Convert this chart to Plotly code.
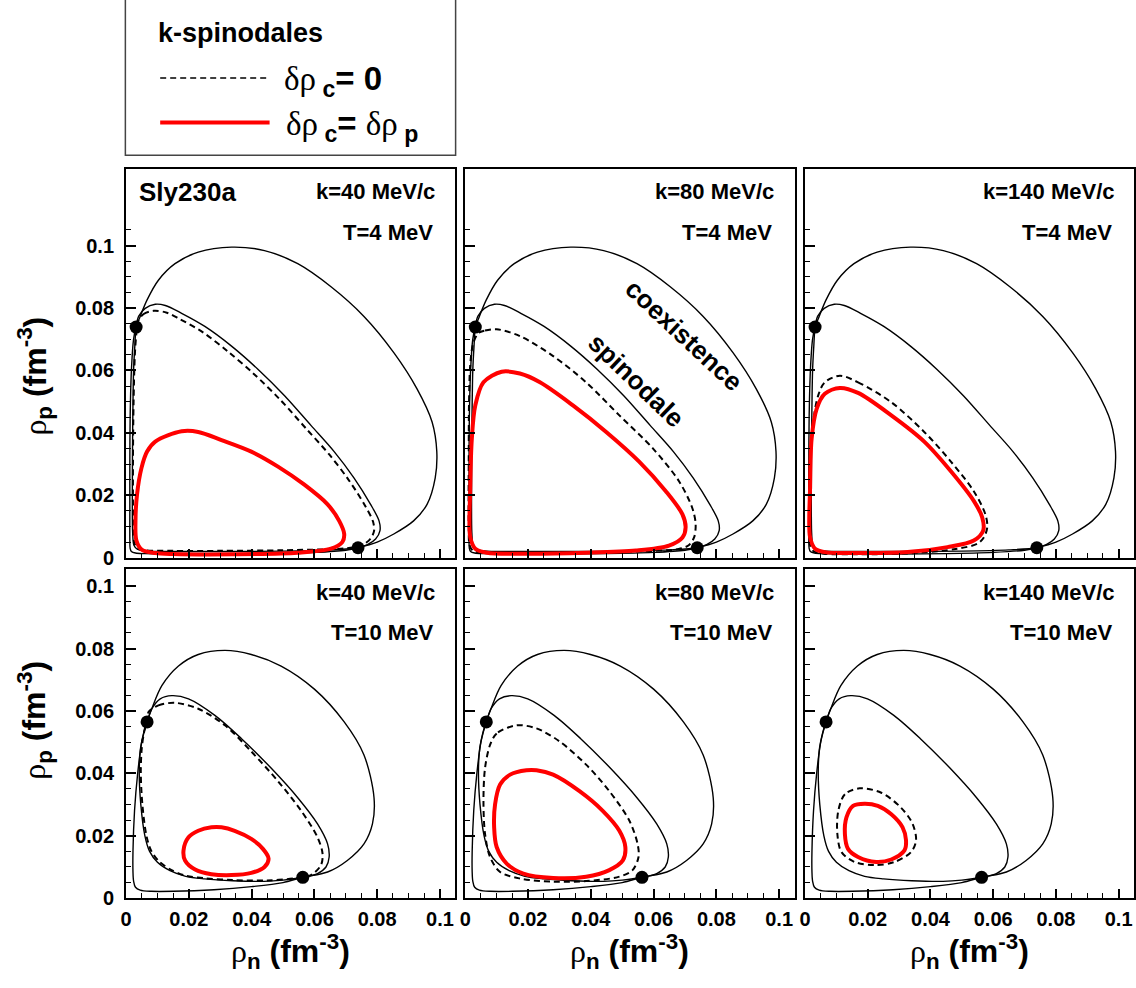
import plotly.graph_objects as go

# ---------------- data (rho_n, rho_p in fm^-3) ----------------
# Coexistence (binodal) curve, T = 4 MeV (same in all k panels)
coex_T4_rhon = [0.0032, 0.0045, 0.0067, 0.0103, 0.0156, 0.0230, 0.0336, 0.0441, 0.0547, 0.0653,
                0.0758, 0.0853, 0.0927, 0.0975, 0.0990, 0.0985, 0.0959, 0.0916, 0.0853, 0.0800,
                0.0739, 0.0700, 0.0600, 0.0450, 0.0300, 0.0150, 0.0060, 0.0030, 0.0017, 0.0013,
                0.0012, 0.0012, 0.0012, 0.0013, 0.0017, 0.0024, 0.0032]
coex_T4_rhop = [0.0739, 0.0773, 0.0826, 0.0889, 0.0942, 0.0979, 0.0995, 0.0984, 0.0942, 0.0868,
                0.0773, 0.0657, 0.0541, 0.0435, 0.0340, 0.0256, 0.0171, 0.0118, 0.0076, 0.0050,
                0.0032, 0.0024, 0.0017, 0.0013, 0.0012, 0.0012, 0.0013, 0.0015, 0.0020, 0.0030,
                0.0060, 0.0150, 0.0300, 0.0450, 0.0600, 0.0700, 0.0739]

# Spinodal, T = 4 MeV
spin_T4_rhon = [0.0032, 0.0040, 0.0061, 0.0093, 0.0125, 0.0177, 0.0251, 0.0336, 0.0420, 0.0505,
                0.0589, 0.0663, 0.0726, 0.0779, 0.0806, 0.0809, 0.0795, 0.0769, 0.0739, 0.0650,
                0.0500, 0.0300, 0.0150, 0.0060, 0.0035, 0.0025, 0.0021, 0.0020, 0.0021, 0.0024,
                0.0028, 0.0032]
spin_T4_rhop = [0.0739, 0.0773, 0.0799, 0.0812, 0.0808, 0.0783, 0.0741, 0.0678, 0.0604, 0.0519,
                0.0424, 0.0340, 0.0256, 0.0171, 0.0118, 0.0087, 0.0060, 0.0042, 0.0032, 0.0025,
                0.0021, 0.0020, 0.0020, 0.0022, 0.0028, 0.0040, 0.0080, 0.0200, 0.0400, 0.0600,
                0.0680, 0.0739]

# Coexistence curve, T = 10 MeV
coex_T10_rhon = [0.0067, 0.0082, 0.0114, 0.0167, 0.0230, 0.0315, 0.0399, 0.0494, 0.0600, 0.0695,
                 0.0758, 0.0790, 0.0785, 0.0758, 0.0705, 0.0642, 0.0563, 0.0500, 0.0400, 0.0280,
                 0.0150, 0.0080, 0.0045, 0.0030, 0.0024, 0.0022, 0.0022, 0.0027, 0.0037, 0.0050,
                 0.0067]
coex_T10_rhop = [0.0565, 0.0607, 0.0681, 0.0744, 0.0781, 0.0794, 0.0781, 0.0744, 0.0670, 0.0565,
                 0.0459, 0.0322, 0.0238, 0.0174, 0.0121, 0.0084, 0.0067, 0.0050, 0.0037, 0.0027,
                 0.0022, 0.0022, 0.0026, 0.0035, 0.0055, 0.0085, 0.0150, 0.0280, 0.0400, 0.0500,
                 0.0565]

# Spinodal, T = 10 MeV
spin_T10_rhon = [0.0067, 0.0082, 0.0109, 0.0146, 0.0199, 0.0283, 0.0367, 0.0462, 0.0547, 0.0610,
                 0.0642, 0.0647, 0.0637, 0.0610, 0.0563, 0.0500, 0.0440, 0.0340, 0.0250, 0.0190,
                 0.0140, 0.0100, 0.0075, 0.0060, 0.0047, 0.0042, 0.0046, 0.0056, 0.0067]
spin_T10_rhop = [0.0565, 0.0607, 0.0639, 0.0649, 0.0639, 0.0586, 0.0512, 0.0417, 0.0322, 0.0238,
                 0.0174, 0.0132, 0.0100, 0.0079, 0.0067, 0.0058, 0.0054, 0.0056, 0.0062, 0.0070,
                 0.0088, 0.0115, 0.0150, 0.0200, 0.0300, 0.0400, 0.0480, 0.0530, 0.0565]

# Critical points (black dots)
crit_T4_rhon = [0.0032, 0.0739]
crit_T4_rhop = [0.0739, 0.0032]
crit_T10_rhon = [0.0067, 0.0563]
crit_T10_rhop = [0.0565, 0.0067]

# k-spinodals, delta rho_c = 0 (dashed)
dash_T4_k40_rhon = [0.0038, 0.0055, 0.0088, 0.0130, 0.0170, 0.0245, 0.0325, 0.0408, 0.0492, 0.0575,
                    0.0648, 0.0710, 0.0762, 0.0787, 0.0790, 0.0778, 0.0760, 0.0739, 0.0700, 0.0500,
                    0.0300, 0.0150, 0.0060, 0.0035, 0.0026, 0.0023, 0.0022, 0.0024, 0.0028, 0.0033,
                    0.0038]
dash_T4_k40_rhop = [0.0757, 0.0780, 0.0791, 0.0785, 0.0765, 0.0722, 0.0660, 0.0588, 0.0505, 0.0412,
                    0.0330, 0.0248, 0.0166, 0.0115, 0.0085, 0.0060, 0.0045, 0.0036, 0.0030, 0.0024,
                    0.0022, 0.0022, 0.0024, 0.0030, 0.0050, 0.0100, 0.0300, 0.0500, 0.0650, 0.0720,
                    0.0757]
dash_T4_k80_rhon = [0.0042, 0.0063, 0.0100, 0.0174, 0.0280, 0.0385, 0.0491, 0.0597, 0.0681, 0.0723,
                    0.0734, 0.0729, 0.0712, 0.0680, 0.0550, 0.0350, 0.0150, 0.0060, 0.0025, 0.0014,
                    0.0011, 0.0011, 0.0012, 0.0016, 0.0025, 0.0042]
dash_T4_k80_rhop = [0.0720, 0.0728, 0.0732, 0.0710, 0.0646, 0.0562, 0.0456, 0.0351, 0.0245, 0.0160,
                    0.0108, 0.0065, 0.0040, 0.0028, 0.0020, 0.0016, 0.0015, 0.0016, 0.0022, 0.0040,
                    0.0100, 0.0300, 0.0500, 0.0620, 0.0685, 0.0720]
dash_T4_k140_rhon = [0.0111, 0.0169, 0.0275, 0.0380, 0.0465, 0.0538, 0.0575, 0.0581, 0.0570, 0.0550,
                     0.0480, 0.0350, 0.0170, 0.0060, 0.0025, 0.0014, 0.0014, 0.0016, 0.0026, 0.0042,
                     0.0063, 0.0111]
dash_T4_k140_rhop = [0.0583, 0.0562, 0.0498, 0.0403, 0.0308, 0.0213, 0.0139, 0.0097, 0.0065, 0.0045,
                     0.0028, 0.0015, 0.0011, 0.0013, 0.0022, 0.0050, 0.0120, 0.0277, 0.0435, 0.0520,
                     0.0562, 0.0583]
dash_T10_k40_rhon = [0.0072, 0.0103, 0.0156, 0.0230, 0.0315, 0.0399, 0.0484, 0.0558, 0.0610, 0.0626,
                     0.0621, 0.0589, 0.0540, 0.0450, 0.0340, 0.0250, 0.0190, 0.0145, 0.0105, 0.0080,
                     0.0065, 0.0052, 0.0047, 0.0050, 0.0058, 0.0067, 0.0072]
dash_T10_k40_rhop = [0.0597, 0.0618, 0.0626, 0.0607, 0.0554, 0.0470, 0.0375, 0.0280, 0.0195, 0.0143,
                     0.0106, 0.0074, 0.0064, 0.0057, 0.0058, 0.0064, 0.0072, 0.0090, 0.0118, 0.0152,
                     0.0200, 0.0300, 0.0400, 0.0480, 0.0535, 0.0570, 0.0597]
dash_T10_k80_rhon = [0.0164, 0.0100, 0.0079, 0.0063, 0.0058, 0.0063, 0.0079, 0.0111, 0.0174, 0.0280,
                     0.0385, 0.0491, 0.0533, 0.0552, 0.0549, 0.0523, 0.0459, 0.0385, 0.0301, 0.0227,
                     0.0164]
dash_T10_k80_rhop = [0.0554, 0.0528, 0.0491, 0.0417, 0.0311, 0.0206, 0.0132, 0.0084, 0.0063, 0.0053,
                     0.0055, 0.0069, 0.0090, 0.0132, 0.0174, 0.0248, 0.0343, 0.0428, 0.0502, 0.0544,
                     0.0554]
dash_T10_k140_rhon = [0.0174, 0.0127, 0.0106, 0.0103, 0.0116, 0.0158, 0.0222, 0.0285, 0.0338, 0.0354,
                      0.0343, 0.0306, 0.0243, 0.0174]
dash_T10_k140_rhop = [0.0352, 0.0333, 0.0280, 0.0206, 0.0148, 0.0116, 0.0106, 0.0116, 0.0148, 0.0185,
                      0.0238, 0.0290, 0.0338, 0.0352]

# k-spinodals, delta rho_c = delta rho_p (red)
red_T4_k40_rhon = [0.0177, 0.0093, 0.0067, 0.0049, 0.0035, 0.0030, 0.0033, 0.0051, 0.0093, 0.0150,
                   0.0336, 0.0547, 0.0653, 0.0689, 0.0695, 0.0679, 0.0642, 0.0568, 0.0484, 0.0399,
                   0.0304, 0.0230, 0.0177]
red_T4_k40_rhop = [0.0405, 0.0372, 0.0340, 0.0287, 0.0203, 0.0118, 0.0055, 0.0025, 0.0015, 0.0012,
                   0.0011, 0.0016, 0.0029, 0.0050, 0.0076, 0.0118, 0.0171, 0.0234, 0.0292, 0.0340,
                   0.0377, 0.0403, 0.0405]
red_T4_k80_rhon = [0.0116, 0.0058, 0.0032, 0.0021, 0.0016, 0.0016, 0.0032, 0.0069, 0.0174, 0.0385,
                   0.0544, 0.0649, 0.0692, 0.0702, 0.0692, 0.0639, 0.0554, 0.0449, 0.0343, 0.0238,
                   0.0174, 0.0116]
red_T4_k80_rhop = [0.0596, 0.0562, 0.0488, 0.0382, 0.0224, 0.0065, 0.0029, 0.0016, 0.0013, 0.0016,
                   0.0023, 0.0039, 0.0065, 0.0097, 0.0139, 0.0213, 0.0308, 0.0403, 0.0488, 0.0562,
                   0.0590, 0.0596]
red_T4_k140_rhon = [0.0111, 0.0063, 0.0037, 0.0021, 0.0016, 0.0016, 0.0032, 0.0063, 0.0169, 0.0327,
                    0.0454, 0.0538, 0.0568, 0.0565, 0.0538, 0.0465, 0.0380, 0.0275, 0.0169, 0.0111]
red_T4_k140_rhop = [0.0544, 0.0525, 0.0477, 0.0382, 0.0224, 0.0065, 0.0029, 0.0018, 0.0015, 0.0018,
                    0.0034, 0.0055, 0.0087, 0.0129, 0.0182, 0.0277, 0.0372, 0.0456, 0.0528, 0.0544]
red_T10_k40_rhon = [0.0272, 0.0230, 0.0199, 0.0183, 0.0188, 0.0220, 0.0272, 0.0336, 0.0399, 0.0441,
                    0.0454, 0.0436, 0.0399, 0.0346, 0.0304, 0.0272]
red_T10_k40_rhop = [0.0227, 0.0216, 0.0195, 0.0153, 0.0121, 0.0092, 0.0077, 0.0074, 0.0081, 0.0100,
                    0.0127, 0.0158, 0.0190, 0.0216, 0.0227, 0.0227]
red_T10_k80_rhon = [0.0195, 0.0143, 0.0111, 0.0095, 0.0092, 0.0100, 0.0132, 0.0185, 0.0280, 0.0385,
                    0.0459, 0.0502, 0.0510, 0.0491, 0.0438, 0.0364, 0.0280, 0.0227, 0.0195]
red_T10_k80_rhop = [0.0410, 0.0396, 0.0364, 0.0301, 0.0227, 0.0164, 0.0111, 0.0079, 0.0065, 0.0069,
                    0.0090, 0.0121, 0.0164, 0.0216, 0.0280, 0.0343, 0.0396, 0.0410, 0.0410]
red_T10_k140_rhon = [0.0190, 0.0153, 0.0132, 0.0127, 0.0137, 0.0169, 0.0227, 0.0275, 0.0317, 0.0322,
                     0.0311, 0.0275, 0.0232, 0.0190]
red_T10_k140_rhop = [0.0303, 0.0296, 0.0259, 0.0206, 0.0158, 0.0132, 0.0116, 0.0124, 0.0153, 0.0185,
                     0.0227, 0.0269, 0.0296, 0.0303]

k_labels = ["k=40 MeV/c", "k=80 MeV/c", "k=140 MeV/c"]
T_labels = ["T=4 MeV", "T=10 MeV"]
tick_vals = [0, 0.02, 0.04, 0.06, 0.08, 0.1]
tick_text = ["0", "0.02", "0.04", "0.06", "0.08", "0.1"]

# ---------------- figure ----------------
W, H = 1136, 988
FONT = "Liberation Sans"
GREEK = "font-family:Liberation Serif;font-weight:normal"

col_px = [(120.7, 451.7), (461.7, 792.7), (803.3, 1134.0)]
row_px = [(171.0, 564.0), (575.7, 908.3)]
y_ranges = [[0, 0.1245], [0, 0.1054]]
x_range = [0, 0.1049]

coex = [(coex_T4_rhon, coex_T4_rhop), (coex_T10_rhon, coex_T10_rhop)]
spin = [(spin_T4_rhon, spin_T4_rhop), (spin_T10_rhon, spin_T10_rhop)]
crit = [(crit_T4_rhon, crit_T4_rhop), (crit_T10_rhon, crit_T10_rhop)]
dashed = [[(dash_T4_k40_rhon, dash_T4_k40_rhop), (dash_T4_k80_rhon, dash_T4_k80_rhop),
           (dash_T4_k140_rhon, dash_T4_k140_rhop)],
          [(dash_T10_k40_rhon, dash_T10_k40_rhop), (dash_T10_k80_rhon, dash_T10_k80_rhop),
           (dash_T10_k140_rhon, dash_T10_k140_rhop)]]
red = [[(red_T4_k40_rhon, red_T4_k40_rhop), (red_T4_k80_rhon, red_T4_k80_rhop),
        (red_T4_k140_rhon, red_T4_k140_rhop)],
       [(red_T10_k40_rhon, red_T10_k40_rhop), (red_T10_k80_rhon, red_T10_k80_rhop),
        (red_T10_k140_rhon, red_T10_k140_rhop)]]

fig = go.Figure()
layout = dict(width=W, height=H, margin=dict(l=0, r=0, t=0, b=0),
              paper_bgcolor="white", plot_bgcolor="white", showlegend=False,
              font=dict(family=FONT, color="black"))
annotations = []
shapes = []

minor_x = [round(0.005 * i, 3) for i in range(0, 21)]
minor_y = [[round(0.005 * i, 3) for i in range(0, 22)], [round(0.005 * i, 3) for i in range(0, 21)]]

idx = 0
for r in range(2):
    for c in range(3):
        idx += 1
        xa = "x" if idx == 1 else f"x{idx}"
        ya = "y" if idx == 1 else f"y{idx}"
        sm = dict(shape="spline", smoothing=0.9)
        fig.add_trace(go.Scatter(x=coex[r][0], y=coex[r][1], mode="lines", xaxis=xa, yaxis=ya,
                                 line=dict(color="black", width=1.4, **sm)))
        fig.add_trace(go.Scatter(x=spin[r][0], y=spin[r][1], mode="lines", xaxis=xa, yaxis=ya,
                                 line=dict(color="black", width=1.4, **sm)))
        fig.add_trace(go.Scatter(x=dashed[r][c][0], y=dashed[r][c][1], mode="lines", xaxis=xa, yaxis=ya,
                                 line=dict(color="black", width=2, dash="6px,4px", **sm)))
        fig.add_trace(go.Scatter(x=red[r][c][0], y=red[r][c][1], mode="lines", xaxis=xa, yaxis=ya,
                                 line=dict(color="#ff0000", width=4, **sm)))
        fig.add_trace(go.Scatter(x=crit[r][0], y=crit[r][1], mode="markers", xaxis=xa, yaxis=ya,
                                 marker=dict(color="black", size=13)))

        x0, x1 = col_px[c]
        y0, y1 = row_px[r]
        xkey = "xaxis" if idx == 1 else f"xaxis{idx}"
        ykey = "yaxis" if idx == 1 else f"yaxis{idx}"
        layout[xkey] = dict(domain=[x0 / W, x1 / W], anchor=ya, range=x_range,
                            showgrid=False, zeroline=False, showline=True, mirror=True,
                            linecolor="black", linewidth=2,
                            ticks="inside", ticklen=9, tickwidth=1.5, tickcolor="black",
                            tickmode="array", tickvals=tick_vals, ticktext=tick_text,
                            showticklabels=(r == 1), ticklabelstandoff=2,
                            tickfont=dict(family=FONT, size=20, color="black", weight="bold"),
                            minor=dict(tickmode="array", tickvals=minor_x, ticks="inside",
                                       ticklen=5, tickwidth=1.2, tickcolor="black"))
        layout[ykey] = dict(domain=[1 - y1 / H, 1 - y0 / H], anchor=xa, range=y_ranges[r],
                            showgrid=False, zeroline=False, showline=True, mirror=True,
                            linecolor="black", linewidth=2,
                            ticks="inside", ticklen=10, tickwidth=1.5, tickcolor="black",
                            tickmode="array", tickvals=tick_vals, ticktext=tick_text,
                            showticklabels=(c == 0), ticklabelstandoff=6,
                            tickfont=dict(family=FONT, size=20, color="black", weight="bold"),
                            minor=dict(tickmode="array", tickvals=minor_y[r], ticks="inside",
                                       ticklen=5, tickwidth=1.2, tickcolor="black"))

        # panel labels
        ky = 0.1172 if r == 0 else 0.0980
        ty = 0.1043 if r == 0 else 0.0852
        annotations.append(dict(x=0.0990, y=ky, xref=xa, yref=ya, text=k_labels[c], showarrow=False,
                                xanchor="right", yanchor="middle",
                                font=dict(family=FONT, size=22, color="black", weight="bold")))
        annotations.append(dict(x=0.0985, y=ty, xref=xa, yref=ya, text=T_labels[r], showarrow=False,
                                xanchor="right", yanchor="middle",
                                font=dict(family=FONT, size=22, color="black", weight="bold")))
        # x-axis title under bottom row
        if r == 1:
            annotations.append(dict(x=(x0 + x1) / 2 / W, y=1 - 962 / H, xref="paper", yref="paper",
                                    text=f'<span style="{GREEK}">ρ</span><sub>n</sub> (fm<sup>-3</sup>)',
                                    showarrow=False, xanchor="center", yanchor="middle",
                                    font=dict(family=FONT, size=32, color="black", weight="bold")))
        if c == 0:
            yc = 380 if r == 0 else 728
            annotations.append(dict(x=29 / W, y=1 - yc / H, xref="paper", yref="paper",
                                    text=f'<span style="{GREEK}">ρ</span><sub>p</sub> (fm<sup>-3</sup>)',
                                    showarrow=False, xanchor="center", yanchor="middle", textangle=-90,
                                    font=dict(family=FONT, size=32, color="black", weight="bold")))

# model name
annotations.append(dict(x=0.0035, y=0.1172, xref="x", yref="y", text="Sly230a", showarrow=False,
                        xanchor="left", yanchor="middle",
                        font=dict(family=FONT, size=26, color="black", weight="bold")))
# curve names in the k=80, T=4 panel
annotations.append(dict(x=0.0697, y=0.0715, xref="x2", yref="y2", text="coexistence", showarrow=False,
                        textangle=43, xanchor="center", yanchor="middle",
                        font=dict(family=FONT, size=26, color="black", weight="bold")))
annotations.append(dict(x=0.0544, y=0.0570, xref="x2", yref="y2", text="spinodale", showarrow=False,
                        textangle=44, xanchor="center", yanchor="middle",
                        font=dict(family=FONT, size=26, color="black", weight="bold")))

# legend box
shapes.append(dict(type="rect", xref="paper", yref="paper", x0=120 / W, x1=452 / W,
                   y0=1 - 157 / H, y1=1.01, line=dict(color="#444444", width=1.5), fillcolor="white",
                   layer="below"))
shapes.append(dict(type="line", xref="paper", yref="paper", x0=155 / W, x1=265 / W,
                   y0=1 - 79 / H, y1=1 - 79 / H, line=dict(color="black", width=1.5, dash="6px,4px")))
shapes.append(dict(type="line", xref="paper", yref="paper", x0=155 / W, x1=265 / W,
                   y0=1 - 124 / H, y1=1 - 124 / H, line=dict(color="#ff0000", width=4)))
annotations.append(dict(x=151 / W, y=1 - 33 / H, xref="paper", yref="paper", text="k-spinodales",
                        showarrow=False, xanchor="left", yanchor="middle",
                        font=dict(family=FONT, size=27, color="black", weight="bold")))
annotations.append(dict(x=277 / W, y=1 - 82 / H, xref="paper", yref="paper",
                        text=f'<span style="{GREEK}">δρ</span><sub> c</sub>= 0',
                        showarrow=False, xanchor="left", yanchor="middle",
                        font=dict(family=FONT, size=33, color="black", weight="bold")))
annotations.append(dict(x=279 / W, y=1 - 127 / H, xref="paper", yref="paper",
                        text=f'<span style="{GREEK}">δρ</span><sub> c</sub>= <span style="{GREEK}">δρ</span><sub> p</sub>',
                        showarrow=False, xanchor="left", yanchor="middle",
                        font=dict(family=FONT, size=33, color="black", weight="bold")))

layout["annotations"] = annotations
layout["shapes"] = shapes
fig.update_layout(**layout)
fig.write_html("out.html", config={"displayModeBar": False},
               post_script="document.body.style.margin='0px';document.body.style.overflow='hidden';")
